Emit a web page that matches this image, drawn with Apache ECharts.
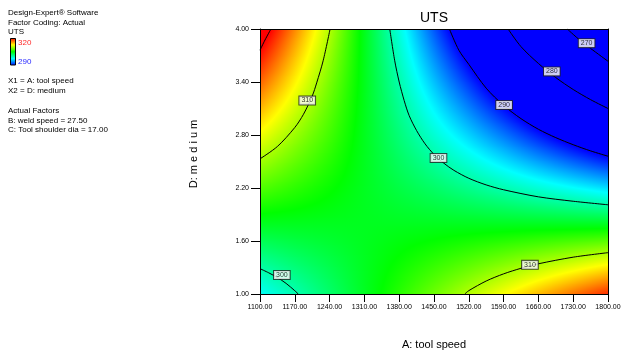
<!DOCTYPE html>
<html>
<head>
<meta charset="utf-8">
<script src="https://cdn.jsdelivr.net/npm/echarts@6/dist/echarts.min.js"></script>
<style>
  html, body { margin: 0; padding: 0; background: #fff; }
  #chart { width: 621px; height: 353px; }
</style>
</head>
<body>
<div id="chart"></div>
<script>
// Factor levels of the response grid: A = tool speed, D = medium
const speedLevels = [1100, 1170, 1240, 1310, 1380, 1450, 1520, 1590, 1660, 1730, 1800];
const mediumLevels = [1.00, 1.60, 2.20, 2.80, 3.40, 4.00];

// Predicted UTS at each tool speed, one array per medium level
const utsMedium100 = [297.7, 299.8, 301.9, 304.0, 306.1, 308.2, 310.3, 312.4, 314.5, 316.6, 318.7];
const utsMedium160 = [302.5, 303.1, 303.6, 304.1, 304.6, 305.1, 305.6, 306.1, 306.6, 307.1, 307.6];
const utsMedium220 = [307.4, 306.3, 305.2, 304.1, 303.0, 302.0, 300.9, 299.8, 298.7, 297.6, 296.5];
const utsMedium280 = [312.2, 309.5, 306.9, 304.2, 301.5, 298.8, 296.2, 293.5, 290.8, 288.1, 285.5];
const utsMedium340 = [317.1, 312.8, 308.5, 304.3, 300.0, 295.7, 291.5, 287.2, 282.9, 278.7, 274.4];
const utsMedium400 = [321.9, 316.0, 310.2, 304.3, 298.5, 292.6, 286.7, 280.9, 275.0, 269.2, 263.3];

// Axis ticks
const speedTicks = [1100, 1170, 1240, 1310, 1380, 1450, 1520, 1590, 1660, 1730, 1800];
const mediumTicks = [1.00, 1.60, 2.20, 2.80, 3.40, 4.00];

// Contour lines of UTS, as [tool speed, medium] points
const contour320 = [[1100, 3.76], [1110, 3.875], [1122, 4.00]];
const contour310Upper = [[1241, 4.00], [1227, 3.64], [1214, 3.39], [1205, 3.24], [1187.5, 3.035], [1170, 2.885], [1135, 2.67], [1100, 2.53]];
const contour300Middle = [[1361, 4.00], [1371, 3.64], [1380, 3.40], [1390, 3.19], [1400, 3.02], [1415, 2.85], [1432, 2.70], [1450, 2.58], [1470, 2.48], [1490, 2.40], [1520, 2.31], [1555, 2.235], [1590, 2.18], [1660, 2.10], [1730, 2.05], [1800, 2.01]];
const contour290 = [[1481, 4.00], [1500, 3.76], [1520, 3.60], [1555, 3.33], [1590, 3.135], [1625, 2.985], [1660, 2.865], [1695, 2.77], [1730, 2.69], [1765, 2.62], [1800, 2.56]];
const contour280 = [[1599, 4.00], [1625, 3.80], [1660, 3.61], [1695, 3.45], [1730, 3.315], [1765, 3.20], [1800, 3.10]];
const contour270 = [[1718, 4.00], [1740, 3.89], [1765, 3.78], [1800, 3.635]];
const contour300Lower = [[1100, 1.287], [1117.5, 1.24], [1135, 1.186], [1152.5, 1.12], [1170, 1.037], [1177, 1.00]];
const contour310Lower = [[1512, 1.00], [1520, 1.038], [1555, 1.147], [1590, 1.228], [1625, 1.291], [1660, 1.342], [1730, 1.417], [1800, 1.468]];

// Contour value labels: [tool speed, medium, level]
const contourLabels = [
  [1195, 3.19, '310'],
  [1459, 2.54, '300'],
  [1591, 3.14, '290'],
  [1687, 3.52, '280'],
  [1757, 3.84, '270'],
  [1144, 1.215, '300'],
  [1643, 1.33, '310']
];

// Colour scale of the UTS legend (290 blue ... 320 red)
const colorScaleMin = 290;
const colorScaleMax = 320;

const FONT = '"Liberation Sans", Arial, Helvetica, sans-serif';

const utsRows = [utsMedium100, utsMedium160, utsMedium220, utsMedium280, utsMedium340, utsMedium400];

// Palette: blue -> cyan -> green -> yellow -> red
const paletteRGB = [[0, 0, 255], [0, 255, 255], [0, 255, 0], [255, 255, 0], [255, 0, 0]];
const paletteBreaks = paletteRGB.map((_, i) => colorScaleMin + (colorScaleMax - colorScaleMin) * i / (paletteRGB.length - 1));

function colorOf(v) {
  if (v <= paletteBreaks[0]) return 'rgb(0,0,255)';
  if (v >= paletteBreaks[paletteBreaks.length - 1]) return 'rgb(255,0,0)';
  for (let i = 0; i < paletteBreaks.length - 1; i++) {
    if (v <= paletteBreaks[i + 1]) {
      const f = (v - paletteBreaks[i]) / (paletteBreaks[i + 1] - paletteBreaks[i]);
      const c0 = paletteRGB[i], c1 = paletteRGB[i + 1];
      const c = c0.map((c, k) => Math.round(c + (c1[k] - c) * f));
      return 'rgb(' + c.join(',') + ')';
    }
  }
  return 'rgb(255,0,0)';
}

// Colour stops along one horizontal strip whose value runs from vL to vR
function stripStops(vL, vR) {
  const out = [{ offset: 0, color: colorOf(vL) }];
  if (vR !== vL) {
    const lo = Math.min(vL, vR), hi = Math.max(vL, vR);
    paletteBreaks
      .filter(b => b > lo && b < hi)
      .map(b => (b - vL) / (vR - vL))
      .sort((a, b) => a - b)
      .forEach(u => out.push({ offset: u, color: colorOf(vL + (vR - vL) * u) }));
  }
  out.push({ offset: 1, color: colorOf(vR) });
  return out;
}

// One item per grid cell: [a0, a1, d0, d1, v(a0,d0), v(a1,d0), v(a0,d1), v(a1,d1)]
const cells = [];
for (let j = 0; j < mediumLevels.length - 1; j++) {
  for (let i = 0; i < speedLevels.length - 1; i++) {
    cells.push([
      speedLevels[i], speedLevels[i + 1], mediumLevels[j], mediumLevels[j + 1],
      utsRows[j][i], utsRows[j][i + 1], utsRows[j + 1][i], utsRows[j + 1][i + 1]
    ]);
  }
}

function renderCell(params, api) {
  const a0 = api.value(0), a1 = api.value(1), d0 = api.value(2), d1 = api.value(3);
  const v00 = api.value(4), v10 = api.value(5), v01 = api.value(6), v11 = api.value(7);
  const pLB = api.coord([a0, d0]);
  const pRT = api.coord([a1, d1]);
  const xL = Math.round(pLB[0]), xR = Math.round(pRT[0]);
  const yB = Math.round(pLB[1]), yT = Math.round(pRT[1]);
  const children = [];
  for (let y = yT; y < yB; y++) {
    const t = (pLB[1] - (y + 0.5)) / (pLB[1] - pRT[1]);
    const vL = v00 + (v01 - v00) * t;
    const vR = v10 + (v11 - v10) * t;
    children.push({
      type: 'rect',
      silent: true,
      shape: { x: xL, y: y, width: xR - xL, height: 1 },
      style: { fill: new echarts.graphic.LinearGradient(0, 0, 1, 0, stripStops(vL, vR)), stroke: null }
    });
  }
  return { type: 'group', children };
}

function contourSeries(points) {
  return {
    type: 'line',
    data: points,
    smooth: 0.3,
    showSymbol: false,
    symbol: 'none',
    silent: true,
    z: 4,
    lineStyle: { color: '#000', width: 1 },
    emphasis: { disabled: true }
  };
}

const chart = echarts.init(document.getElementById('chart'), null, { renderer: 'canvas' });

const textStyle8 = { font: '8px ' + FONT, fill: '#000', verticalAlign: 'middle' };

chart.setOption({
  animation: false,
  backgroundColor: '#fff',
  title: {
    text: 'UTS',
    left: 420,
    top: 11,
    padding: 0,
    textStyle: { fontSize: 14, fontWeight: 'normal', color: '#000', fontFamily: FONT }
  },
  grid: { left: 260, right: 13, top: 29, bottom: 59, containLabel: false, outerBoundsMode: 'none' },
  xAxis: [{
    type: 'value',
    min: 1100,
    max: 1800,
    z: 10,
    name: 'A: tool speed',
    nameLocation: 'middle',
    nameGap: 45,
    nameTextStyle: { fontSize: 11, color: '#000', fontFamily: FONT },
    axisLine: { show: true, onZero: false, lineStyle: { color: '#000', width: 1 } },
    axisTick: { show: true, length: 8, customValues: speedTicks, lineStyle: { color: '#000', width: 1 } },
    axisLabel: { customValues: speedTicks, fontSize: 7, margin: 10, color: '#000', fontFamily: FONT, formatter: v => v.toFixed(2) },
    splitLine: { show: false }
  }, {
    type: 'value',
    position: 'top',
    min: 1100,
    max: 1800,
    z: 10,
    axisLine: { show: true, onZero: false, lineStyle: { color: '#000', width: 1 } },
    axisTick: { show: false },
    axisLabel: { show: false },
    splitLine: { show: false }
  }],
  yAxis: [{
    type: 'value',
    min: 1,
    max: 4,
    z: 10,
    axisLine: { show: true, onZero: false, lineStyle: { color: '#000', width: 1 } },
    axisTick: { show: true, length: 9, customValues: mediumTicks, lineStyle: { color: '#000', width: 1 } },
    axisLabel: { customValues: mediumTicks, fontSize: 7, margin: 11, color: '#000', fontFamily: FONT, formatter: v => v.toFixed(2) },
    splitLine: { show: false }
  }, {
    type: 'value',
    position: 'right',
    min: 1,
    max: 4,
    z: 10,
    axisLine: { show: true, onZero: false, lineStyle: { color: '#000', width: 1 } },
    axisTick: { show: false },
    axisLabel: { show: false },
    splitLine: { show: false }
  }],
  graphic: [
    { type: 'text', x: 8, y: 12.7, style: Object.assign({ text: 'Design-Expert® Software' }, textStyle8) },
    { type: 'text', x: 8, y: 22.4, style: Object.assign({ text: 'Factor Coding: Actual' }, textStyle8) },
    { type: 'text', x: 8, y: 32.1, style: Object.assign({ text: 'UTS' }, textStyle8) },
    {
      type: 'rect',
      shape: { x: 10.5, y: 38.5, width: 5, height: 26.5 },
      style: {
        fill: new echarts.graphic.LinearGradient(0, 0, 0, 1, [
          { offset: 0, color: '#ff0000' },
          { offset: 0.25, color: '#ffff00' },
          { offset: 0.5, color: '#00ff00' },
          { offset: 0.75, color: '#00ffff' },
          { offset: 1, color: '#0000ff' }
        ]),
        stroke: '#000',
        lineWidth: 1
      }
    },
    { type: 'text', x: 18, y: 42.7, style: { text: String(colorScaleMax), font: '8px ' + FONT, fill: '#ff2a2a', verticalAlign: 'middle' } },
    { type: 'text', x: 18, y: 62, style: { text: String(colorScaleMin), font: '8px ' + FONT, fill: '#2a2aff', verticalAlign: 'middle' } },
    { type: 'text', x: 8, y: 81, style: Object.assign({ text: 'X1 = A: tool speed' }, textStyle8) },
    { type: 'text', x: 8, y: 90.7, style: Object.assign({ text: 'X2 = D: medium' }, textStyle8) },
    { type: 'text', x: 8, y: 110.7, style: Object.assign({ text: 'Actual Factors' }, textStyle8) },
    { type: 'text', x: 8, y: 120.3, style: Object.assign({ text: 'B: weld speed = 27.50' }, textStyle8) },
    { type: 'text', x: 8, y: 129.7, style: Object.assign({ text: 'C: Tool shoulder dia = 17.00' }, textStyle8) },
    {
      type: 'text',
      x: 194,
      y: 154,
      rotation: Math.PI / 2,
      style: { text: 'D: m e d i u m', font: '11px ' + FONT, fill: '#000', align: 'center', verticalAlign: 'middle' }
    }
  ],
  series: [
    {
      type: 'custom',
      data: cells,
      dimensions: ['a0', 'a1', 'd0', 'd1', 'v00', 'v10', 'v01', 'v11'],
      encode: { x: [0, 1], y: [2, 3] },
      renderItem: renderCell,
      silent: true,
      z: 1
    },
    contourSeries(contour320),
    contourSeries(contour310Upper),
    contourSeries(contour300Middle),
    contourSeries(contour290),
    contourSeries(contour280),
    contourSeries(contour270),
    contourSeries(contour300Lower),
    contourSeries(contour310Lower),
    {
      type: 'scatter',
      data: contourLabels.map(l => ({ name: l[2], value: [l[0], l[1]] })),
      symbolSize: 1,
      itemStyle: { color: 'rgba(0,0,0,0)' },
      silent: true,
      z: 6,
      label: {
        show: true,
        position: 'inside',
        formatter: '{b}',
        fontSize: 7,
        lineHeight: 7,
        fontFamily: FONT,
        color: '#000',
        backgroundColor: '#fff',
        borderColor: '#222',
        borderWidth: 1,
        padding: [1, 2, 0, 2]
      },
      emphasis: { disabled: true }
    }
  ]
});
</script>
</body>
</html>
